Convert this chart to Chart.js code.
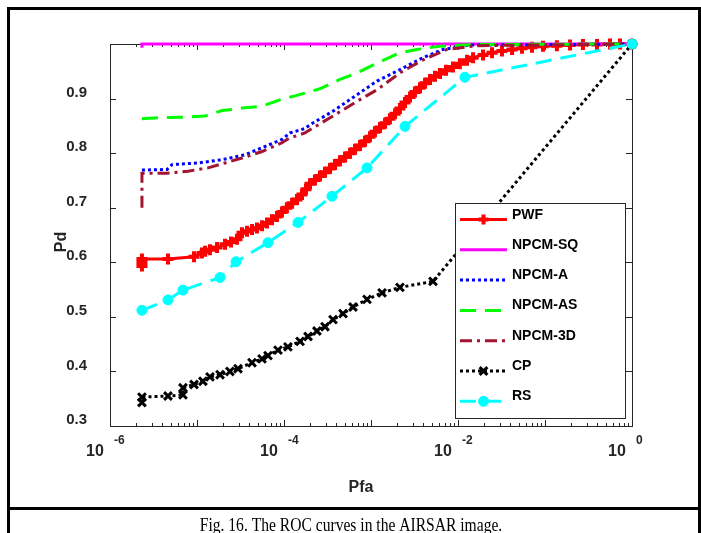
<!DOCTYPE html>
<html>
<head>
<meta charset="utf-8">
<script src="https://cdn.jsdelivr.net/npm/chart.js@4.4.0/dist/chart.umd.min.js"></script>
<style>
  html, body { margin: 0; padding: 0; background: #fff; }
  #wrap { width: 701px; height: 533px; }
</style>
</head>
<body>
<div id="wrap"><canvas id="rocChart" width="701" height="533"></canvas></div>
<script>
// ROC curves in the AIRSAR image (Fig. 16)

// PWF
const pwfPfa = [2.33e-6, 2.33e-6, 2.33e-6, 4.64e-6, 9.24e-6, 1.14e-5, 1.24e-5, 1.41e-5, 1.70e-5, 2.10e-5,
    2.46e-5, 2.88e-5, 3.29e-5, 3.76e-5, 4.29e-5, 4.89e-5, 5.59e-5, 6.38e-5, 7.28e-5, 8.31e-5, 9.48e-5,
    1.08e-4, 1.24e-4, 1.41e-4, 1.61e-4, 1.79e-4, 1.99e-4, 2.27e-4, 2.59e-4, 2.96e-4, 3.38e-4, 3.86e-4,
    4.40e-4, 5.03e-4, 5.74e-4, 6.55e-4, 7.47e-4, 8.53e-4, 9.74e-4,
    1.11e-3, 1.27e-3, 1.45e-3, 1.65e-3, 1.89e-3, 2.15e-3, 2.46e-3, 2.81e-3, 3.20e-3, 3.66e-3, 4.18e-3,
    4.77e-3, 5.44e-3, 6.21e-3, 7.28e-3, 8.76e-3,
    1.05e-2, 1.27e-2, 1.49e-2, 1.94e-2, 2.46e-2, 3.20e-2, 4.18e-2, 5.44e-2, 7.09e-2, 9.48e-2,
    0.137, 0.194, 0.273, 0.396, 0.559, 0.728, 1];
const pwfPd = [0.593, 0.600, 0.606, 0.606, 0.610, 0.617, 0.620, 0.623, 0.627, 0.633,
    0.637, 0.642, 0.654, 0.657, 0.660, 0.663, 0.667, 0.672, 0.678, 0.684, 0.692,
    0.700, 0.708, 0.715, 0.724, 0.734, 0.744, 0.751, 0.758, 0.765, 0.772, 0.779,
    0.786, 0.793, 0.800, 0.807, 0.814, 0.822, 0.830,
    0.839, 0.847, 0.855, 0.863, 0.872, 0.882, 0.893, 0.903, 0.912, 0.920, 0.928,
    0.935, 0.941, 0.946, 0.952, 0.958,
    0.964, 0.970, 0.975, 0.980, 0.984, 0.987, 0.990, 0.992, 0.994, 0.996,
    0.997, 0.998, 0.999, 0.999, 1.0, 1.0, 1.0];

// NPCM-SQ
const sqPfa = [2.33e-6, 2.33e-6, 1];
const sqPd = [0.993, 1.0, 1.0];

// NPCM-A
const aPfa = [2.33e-6, 4.52e-6, 5.16e-6, 1.03e-5, 1.94e-5, 3.56e-5, 5.59e-5, 9.48e-5, 1.17e-4, 1.74e-4,
    1.99e-4, 3.66e-4, 6.90e-4, 1.17e-3, 2.15e-3, 3.96e-3, 6.72e-3, 1.37e-2, 1];
const aPd = [0.769, 0.770, 0.779, 0.782, 0.788, 0.797, 0.810, 0.825, 0.837, 0.845,
    0.852, 0.877, 0.907, 0.932, 0.953, 0.975, 0.990, 0.998, 1.0];

// NPCM-AS
const asPfa = [2.33e-6, 3.56e-6, 7.28e-6, 1.24e-5, 1.94e-5, 3.56e-5, 5.59e-5, 9.48e-5, 1.34e-4, 1.74e-4,
    2.59e-4, 4.40e-4, 6.90e-4, 1.17e-3, 2.15e-3, 3.38e-3, 6.21e-3, 1.49e-2, 1];
const asPd = [0.863, 0.865, 0.866, 0.868, 0.878, 0.883, 0.886, 0.899, 0.905, 0.910,
    0.918, 0.935, 0.947, 0.965, 0.984, 0.990, 0.996, 0.999, 1.0];

// NPCM-3D
const d3Pfa = [2.33e-6, 2.33e-6, 4.52e-6, 7.88e-6, 1.34e-5, 2.10e-5, 3.29e-5, 5.59e-5, 9.48e-5, 1.17e-4,
    1.74e-4, 1.99e-4, 3.66e-4, 6.90e-4, 1.17e-3, 2.15e-3, 3.96e-3, 7.47e-3, 1.65e-2, 1];
const d3Pd = [0.700, 0.763, 0.763, 0.767, 0.773, 0.782, 0.791, 0.803, 0.819, 0.828,
    0.837, 0.843, 0.868, 0.895, 0.916, 0.947, 0.971, 0.990, 0.997, 1.0];

// CP
const cpPfa = [2.33e-6, 2.33e-6, 4.64e-6, 6.90e-6, 6.90e-6, 9.24e-6, 1.17e-5, 1.41e-5, 1.84e-5, 2.39e-5,
    2.96e-5, 4.29e-5, 5.59e-5, 6.55e-5, 8.53e-5, 1.11e-4, 1.53e-4, 1.89e-4, 2.39e-4, 2.96e-4,
    3.66e-4, 4.77e-4, 6.21e-4, 9.0e-4, 1.34e-3, 2.15e-3, 5.16e-3, 1];
const cpPd = [0.343, 0.353, 0.355, 0.357, 0.370, 0.376, 0.382, 0.390, 0.394, 0.400,
    0.405, 0.416, 0.423, 0.429, 0.439, 0.445, 0.455, 0.464, 0.474, 0.482,
    0.495, 0.506, 0.518, 0.532, 0.544, 0.554, 0.565, 1.0];

// RS
const rsPfa = [2.33e-6, 4.64e-6, 6.90e-6, 1.84e-5, 2.81e-5, 6.55e-5, 1.45e-4, 3.56e-4, 9.0e-4, 2.46e-3, 1.20e-2, 1];
const rsPd = [0.512, 0.531, 0.549, 0.572, 0.601, 0.636, 0.673, 0.721, 0.773, 0.849, 0.939, 1.0];

// axis ticks
const pdTicks = [0.3, 0.4, 0.5, 0.6, 0.7, 0.8, 0.9];
const pfaDecades = [-6, -4, -2, 0];

const SANS = '"Liberation Sans", Arial, Helvetica, sans-serif';
const AXIS = '#262626';

const toPoints = (xs, ys) => xs.map((x, i) => ({ x, y: ys[i] }));

const series = (label, xs, ys, color, extra) => Object.assign({
    label,
    data: toPoints(xs, ys),
    borderColor: color,
    backgroundColor: color,
    pointBorderColor: color,
    pointBackgroundColor: color,
    borderWidth: 3,
    borderCapStyle: 'butt',
    tension: 0,
    pointRadius: 0,
    clip: false
}, extra);

// frame, ticks and the inline legend are drawn by hand
const figureParts = {
    id: 'figureParts',
    beforeDatasetsDraw(chart) {
        const { ctx, chartArea: a, scales: { x, y } } = chart;
        ctx.save();
        ctx.lineWidth = 1;
        ctx.strokeStyle = AXIS;
        ctx.strokeRect(a.left + 0.5, a.top + 0.5, a.right - a.left, a.bottom - a.top);

        ctx.beginPath();
        [...pdTicks, 1.0].forEach(v => {
            const py = Math.round(y.getPixelForValue(v)) + 0.5;
            ctx.moveTo(a.left, py); ctx.lineTo(a.left + 6, py);
            ctx.moveTo(a.right, py); ctx.lineTo(a.right - 6, py);
        });
        for (let e = -6; e < 0; e++) {
            for (let m = 1; m < 10; m++) {
                const px = Math.round(x.getPixelForValue(m * Math.pow(10, e))) + 0.5;
                const len = m === 1 ? 6 : 3;
                ctx.moveTo(px, a.bottom); ctx.lineTo(px, a.bottom - len);
                ctx.moveTo(px, a.top); ctx.lineTo(px, a.top + len);
            }
        }
        ctx.stroke();
        ctx.restore();
    },
    afterDatasetsDraw(chart) {
        const { ctx } = chart;
        // legend box
        const box = { left: 455.5, top: 203.5, w: 170, h: 215 };
        ctx.save();
        ctx.fillStyle = '#fff';
        ctx.fillRect(box.left, box.top, box.w, box.h);
        ctx.strokeStyle = AXIS;
        ctx.lineWidth = 1;
        ctx.strokeRect(box.left, box.top, box.w, box.h);

        ctx.font = 'bold 14px ' + SANS;
        ctx.textAlign = 'left';
        ctx.textBaseline = 'alphabetic';
        chart.data.datasets.forEach((ds, i) => {
            const ly = 219.5 + i * 30.3;
            ctx.save();
            ctx.strokeStyle = ds.borderColor;
            ctx.lineWidth = ds.borderWidth;
            ctx.lineCap = 'butt';
            ctx.setLineDash(ds.borderDash || []);
            ctx.beginPath();
            ctx.moveTo(460, ly);
            ctx.lineTo(507, ly);
            ctx.stroke();
            ctx.setLineDash([]);
            if (ds.pointRadius > 0) {
                ctx.fillStyle = ds.pointBackgroundColor;
                ctx.strokeStyle = ds.pointBorderColor;
                ctx.lineWidth = ds.pointBorderWidth;
                Chart.helpers.drawPoint(ctx, {
                    pointStyle: ds.pointStyle,
                    radius: ds.legendRadius || ds.pointRadius,
                    borderWidth: ds.pointBorderWidth,
                    rotation: 0
                }, 483.5, ly);
            }
            ctx.restore();
            ctx.fillStyle = '#000';
            ctx.fillText(ds.label, 512, ly - 1);
        });
        ctx.restore();
    },
    afterDraw(chart) {
        const { ctx, chartArea: a, scales: { x, y } } = chart;
        ctx.save();
        ctx.fillStyle = AXIS;

        // Pd tick labels
        ctx.font = 'bold 15px ' + SANS;
        ctx.textAlign = 'right';
        ctx.textBaseline = 'middle';
        pdTicks.forEach(v => ctx.fillText(v.toFixed(1), a.left - 23, y.getPixelForValue(v) - 6));

        // Pfa tick labels, 10 with a raised exponent
        pfaDecades.forEach(e => {
            const px = x.getPixelForValue(Math.pow(10, e));
            ctx.font = 'bold 16px ' + SANS;
            ctx.textAlign = 'center';
            ctx.fillText('10', px - 15, a.bottom + 26);
            ctx.font = 'bold 12px ' + SANS;
            ctx.textAlign = 'left';
            ctx.fillText(String(e), px + 4, a.bottom + 15);
        });

        // axis titles
        ctx.font = 'bold 16px ' + SANS;
        ctx.textAlign = 'center';
        ctx.fillText('Pfa', 361, a.bottom + 62);
        ctx.save();
        ctx.translate(62, 242);
        ctx.rotate(-Math.PI / 2);
        ctx.fillText('Pd', 0, 0);
        ctx.restore();

        // figure border and caption
        ctx.strokeStyle = '#000';
        ctx.lineWidth = 3;
        ctx.beginPath();
        ctx.moveTo(7, 8.5); ctx.lineTo(701, 8.5);
        ctx.moveTo(8.5, 7); ctx.lineTo(8.5, 533);
        ctx.moveTo(699.5, 7); ctx.lineTo(699.5, 533);
        ctx.moveTo(7, 508.5); ctx.lineTo(701, 508.5);
        ctx.stroke();

        ctx.fillStyle = '#000';
        ctx.font = '19px "Liberation Serif", "Times New Roman", serif';
        ctx.textAlign = 'center';
        ctx.textBaseline = 'alphabetic';
        ctx.translate(351, 531);
        ctx.scale(0.82, 1);
        ctx.fillText('Fig. 16. The ROC curves in the AIRSAR image.', 0, 0);
        ctx.restore();
    }
};

const ctx = document.getElementById('rocChart').getContext('2d');
const rocChart = new Chart(ctx, {
    type: 'line',
    data: {
        datasets: [
            series('PWF', pwfPfa, pwfPd, '#FF0000', {
                order: 6, pointStyle: 'cross', pointRadius: 5.5, pointBorderWidth: 4, legendRadius: 5
            }),
            series('NPCM-SQ', sqPfa, sqPd, '#FF00FF', { order: 5 }),
            series('NPCM-A', aPfa, aPd, '#0000FF', { order: 4, borderDash: [3, 3] }),
            series('NPCM-AS', asPfa, asPd, '#00FF00', { order: 3, borderDash: [16, 9] }),
            series('NPCM-3D', d3Pfa, d3Pd, '#A2142F', { order: 2, borderDash: [12, 5, 3, 5] }),
            series('CP', cpPfa, cpPd, '#000000', {
                order: 1, borderDash: [3, 3], pointStyle: 'crossRot', pointRadius: 5.5, pointBorderWidth: 3
            }),
            series('RS', rsPfa, rsPd, '#00FFFF', {
                order: 0, borderDash: [16, 9], pointStyle: 'circle', pointRadius: 5, pointBorderWidth: 1
            })
        ]
    },
    options: {
        responsive: false,
        animation: false,
        devicePixelRatio: 1,
        layout: { padding: { left: 110, right: 69, top: 44, bottom: 107 } },
        plugins: {
            legend: { display: false },
            tooltip: { enabled: false }
        },
        scales: {
            x: { type: 'logarithmic', min: 1e-6, max: 1, display: false },
            y: { type: 'linear', min: 0.3, max: 1.0, display: false }
        }
    },
    plugins: [figureParts]
});
</script>
</body>
</html>
